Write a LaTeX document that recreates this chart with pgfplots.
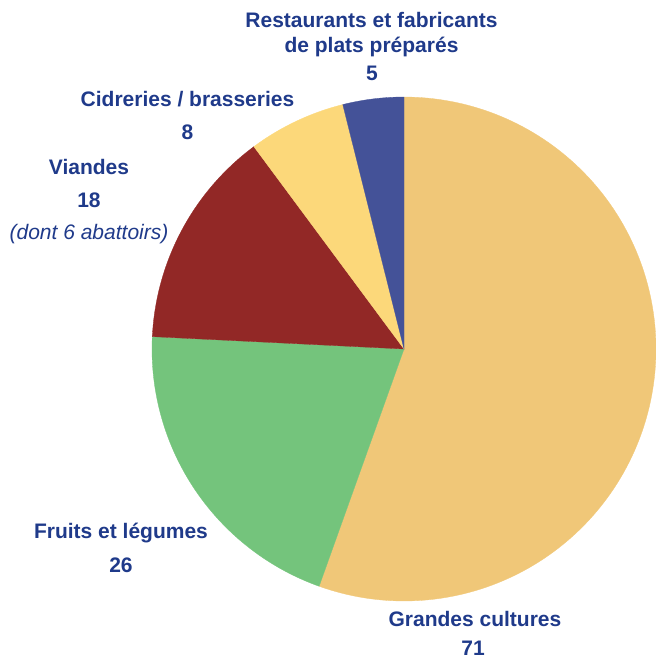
\documentclass[border=0pt]{standalone}
\usepackage{pgfplots}
\pgfplotsset{compat=1.18}
\usepackage{fontspec}
\setmainfont{Liberation Sans}
\definecolor{cGC}{RGB}{240,199,120}
\definecolor{cFL}{RGB}{116,196,124}
\definecolor{cVI}{RGB}{146,40,38}
\definecolor{cCI}{RGB}{252,216,122}
\definecolor{cRE}{RGB}{68,82,152}
\definecolor{ctext}{RGB}{31,58,138}
\begin{document}
\begin{tikzpicture}
% values: Grandes cultures 71, Fruits et legumes 26, Viandes 18, Cidreries 8, Restaurants 5
\def\vGC{71}\def\vFL{26}\def\vVI{18}\def\vCI{8}\def\vRE{5}
\pgfmathsetmacro\tot{\vGC+\vFL+\vVI+\vCI+\vRE}
\pgfmathsetmacro\aA{90}
\pgfmathsetmacro\aB{90-(\vGC/\tot)*360}
\pgfmathsetmacro\aC{90-((\vGC+\vFL)/\tot)*360}
\pgfmathsetmacro\aD{90-((\vGC+\vFL+\vVI)/\tot)*360}
\pgfmathsetmacro\aE{90-((\vGC+\vFL+\vVI+\vCI)/\tot)*360}
\pgfmathsetmacro\aF{90-360}
\begin{axis}[width=656pt,height=659pt,scale only axis,
  xmin=0,xmax=656,ymin=0,ymax=659,y dir=reverse,
  hide axis,clip=false]
\addplot[fill=cGC,draw=cGC,line width=0.3pt,domain=\aB:\aA,samples=150,variable=\t]
  ({404+252*cos(\t)},{349-252*sin(\t)}) -- (404,349) -- cycle;
\addplot[fill=cFL,draw=cFL,line width=0.3pt,domain=\aC:\aB,samples=80,variable=\t]
  ({404+252*cos(\t)},{349-252*sin(\t)}) -- (404,349) -- cycle;
\addplot[fill=cVI,draw=cVI,line width=0.3pt,domain=\aD:\aC,samples=60,variable=\t]
  ({404+252*cos(\t)},{349-252*sin(\t)}) -- (404,349) -- cycle;
\addplot[fill=cCI,draw=cCI,line width=0.3pt,domain=\aE:\aD,samples=40,variable=\t]
  ({404+252*cos(\t)},{349-252*sin(\t)}) -- (404,349) -- cycle;
\addplot[fill=cRE,draw=cRE,line width=0.3pt,domain=\aF:\aE,samples=30,variable=\t]
  ({404+252*cos(\t)},{349-252*sin(\t)}) -- (404,349) -- cycle;
\tikzset{lab/.style={anchor=base,text=ctext,inner sep=0pt,font=\bfseries\fontsize{21}{24}\selectfont}}
\node[lab] at (axis cs:371.5,27) {Restaurants et fabricants};
\node[lab] at (axis cs:371.5,52) {de plats préparés};
\node[lab] at (axis cs:372,80) {5};
\node[lab] at (axis cs:187.5,106) {Cidreries / brasseries};
\node[lab] at (axis cs:187.5,139) {8};
\node[lab] at (axis cs:89,174) {Viandes};
\node[lab] at (axis cs:89,207) {18};
\node[lab,font=\itshape\fontsize{21}{24}\selectfont] at (axis cs:89,239) {(dont 6 abattoirs)};
\node[lab] at (axis cs:121,538) {Fruits et légumes};
\node[lab] at (axis cs:121,572) {26};
\node[lab] at (axis cs:475,626) {Grandes cultures};
\node[lab] at (axis cs:473,655) {71};
\end{axis}
\pgfresetboundingbox
\useasboundingbox (current axis.south west) rectangle (current axis.north east);
\end{tikzpicture}
\end{document}
